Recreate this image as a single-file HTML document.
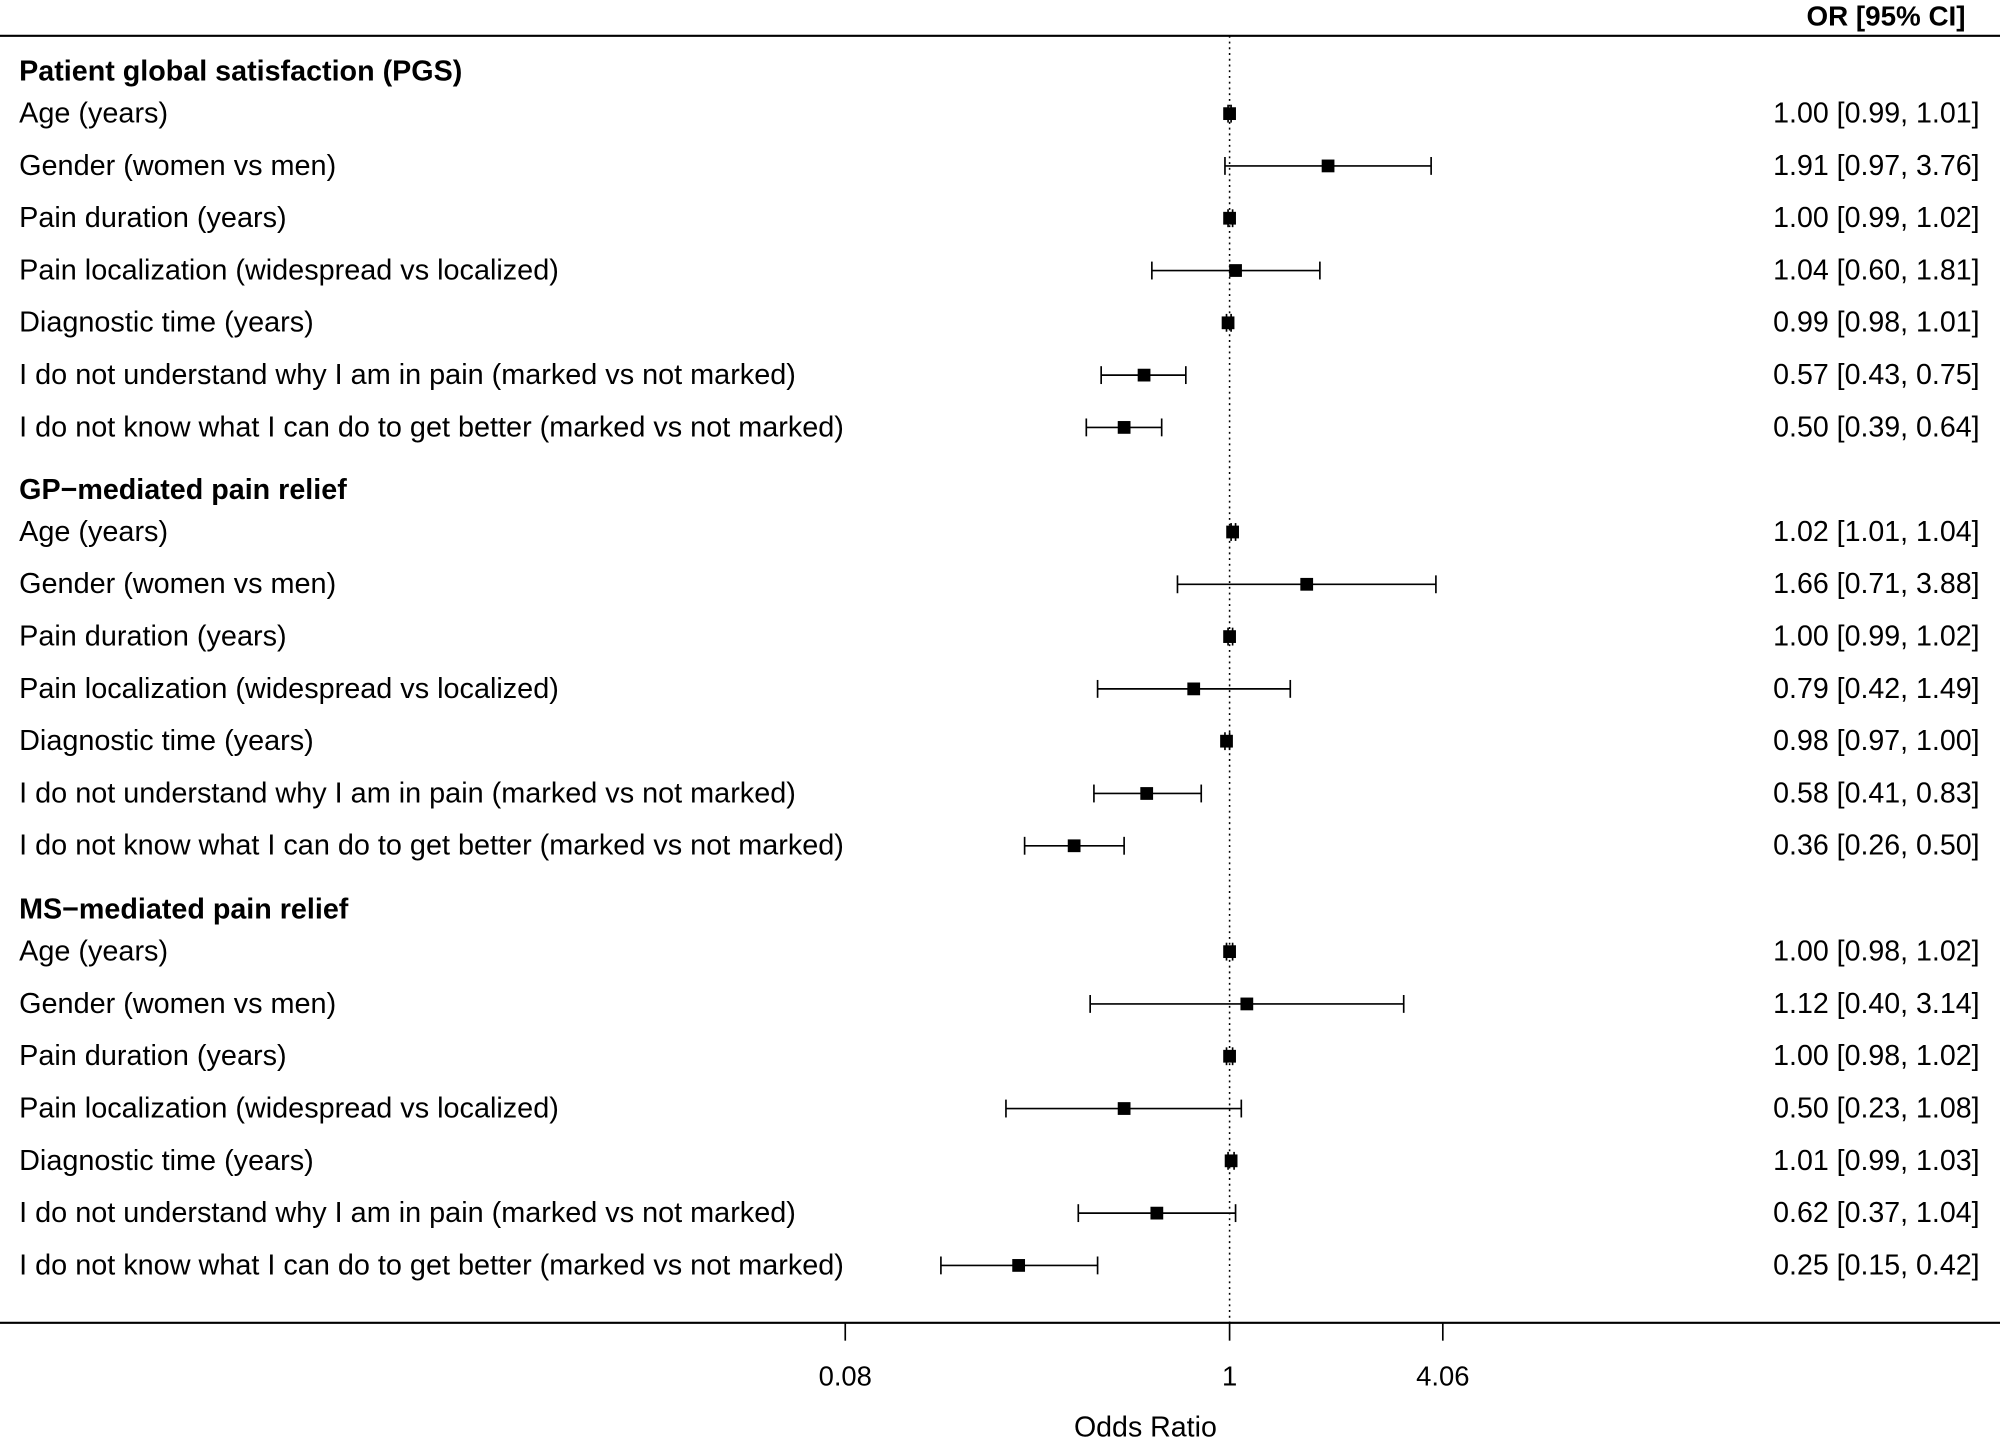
<!DOCTYPE html>
<html><head><meta charset="utf-8"><style>
html,body{margin:0;padding:0;background:#fff}
svg{display:block}
text{font-family:"Liberation Sans",Arial,sans-serif;fill:#000}
</style></head><body>
<svg id="chart" width="2000" height="1439" viewBox="0 0 1568 1128" xmlns="http://www.w3.org/2000/svg">
<g id="g"></g>
</svg>
<script>
const groups = ["Patient global satisfaction (PGS)", "GP\u2212mediated pain relief", "MS\u2212mediated pain relief"];
const labels = ["Age (years)","Gender (women vs men)","Pain duration (years)","Pain localization (widespread vs localized)","Diagnostic time (years)","I do not understand why I am in pain (marked vs not marked)","I do not know what I can do to get better (marked vs not marked)"];
const orValues = [[1.00,1.91,1.00,1.04,0.99,0.57,0.50],[1.02,1.66,1.00,0.79,0.98,0.58,0.36],[1.00,1.12,1.00,0.50,1.01,0.62,0.25]];
const lowerCI = [[0.99,0.97,0.99,0.60,0.98,0.43,0.39],[1.01,0.71,0.99,0.42,0.97,0.41,0.26],[0.98,0.40,0.98,0.23,0.99,0.37,0.15]];
const upperCI = [[1.01,3.76,1.02,1.81,1.01,0.75,0.64],[1.04,3.88,1.02,1.49,1.00,0.83,0.50],[1.02,3.14,1.02,1.08,1.03,1.04,0.42]];
const tickValues = [0.08,1,4.06];
const tickLabels = ["0.08","1","4.06"];

const NS="http://www.w3.org/2000/svg";
const g=document.getElementById('g');
function mk(tag,attrs,txt){const e=document.createElementNS(NS,tag);for(const k in attrs)e.setAttribute(k,attrs[k]);if(txt!==undefined)e.textContent=txt;g.appendChild(e);return e;}
const X0=964, K=119.3;
function xs(v){return X0+Math.log(v)*K;}
function fmt(v){return v.toFixed(2);}

let e;
e=mk('line',{x1:0,y1:28,x2:1568,y2:28,stroke:'#000','stroke-width':1.6});


e=mk('text',{x:1541,y:20,'text-anchor':'end','font-size':21.8,'font-weight':'bold'},'OR [95% CI]');


e=mk('line',{x1:X0,y1:28,x2:X0,y2:1037,stroke:'#000','stroke-width':1.2,'stroke-dasharray':'1.5,3'});



const headY=[55,383,712];
for(let gi=0;gi<groups.length;gi++){
  e=mk('text',{x:15,y:headY[gi]+8,'font-size':22.5,'font-weight':'bold'},groups[gi]);
  
  
  for(let i=0;i<labels.length;i++){
    const y=headY[gi]+33+i*41;
    e=mk('text',{x:15,y:y+8,'font-size':22.6},labels[i]);
    
    
    const lo=xs(lowerCI[gi][i]),hi=xs(upperCI[gi][i]),m=xs(orValues[gi][i]);
    e=mk('line',{x1:lo,y1:y+1,x2:hi,y2:y+1,stroke:'#000','stroke-width':1.3});
    
    
    e=mk('line',{x1:lo,y1:y-6,x2:lo,y2:y+8,stroke:'#000','stroke-width':1.3});
    
    
    e=mk('line',{x1:hi,y1:y-6,x2:hi,y2:y+8,stroke:'#000','stroke-width':1.3});
    
    
    e=mk('rect',{x:m-5,y:y-4,width:10,height:10,fill:'#000'});
    
    
    e=mk('text',{x:1552,y:y+8,'text-anchor':'end','font-size':22.4},fmt(orValues[gi][i])+' ['+fmt(lowerCI[gi][i])+', '+fmt(upperCI[gi][i])+']');
    
    
  }
}

e=mk('line',{x1:0,y1:1037,x2:1568,y2:1037,stroke:'#000','stroke-width':1.6});


for(let i=0;i<tickValues.length;i++){
  const x=xs(tickValues[i]);
  e=mk('line',{x1:x,y1:1037,x2:x,y2:1051,stroke:'#000','stroke-width':1.3});
  
  
  e=mk('text',{x:x,y:1086,'text-anchor':'middle','font-size':21.5},tickLabels[i]);
  
  
}
e=mk('text',{x:898,y:1126,'text-anchor':'middle','font-size':22.4},'Odds Ratio');


</script>
</body></html>
